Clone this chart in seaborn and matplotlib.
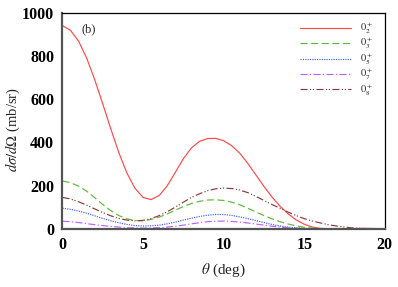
import numpy as np
import pandas as pd
import matplotlib
matplotlib.use('Agg')
import matplotlib.pyplot as plt
import seaborn as sns

# angles in degrees, 0.5 deg step
theta = np.arange(0, 20.01, 0.5)

# cross sections (mb/sr)
s02 = [940, 918, 868, 790, 690, 578, 462, 352, 258, 188, 146, 136, 155, 200, 262, 325,
       375, 405, 418, 419, 408, 385, 350, 303, 250, 197, 148, 105, 70, 42, 22, 9,
       3, 1, 0.5, 1, 2, 3, 3, 2, 1]
s03 = [222, 214, 198, 175, 145, 113, 85, 62, 47, 39, 38, 44, 55, 70, 87, 104,
       118, 128, 134, 135, 132, 124, 112, 96, 79, 62, 47, 34, 23, 15, 8, 4,
       2, 1, 0.5, 0.5, 0.5, 0.5, 0.5, 0.5, 0.5]
s05 = [96, 91, 83, 73, 61, 49, 38, 29, 21, 16, 14, 15, 18, 24, 32, 41,
       50, 58, 64, 67, 67, 63, 56, 48, 39, 30, 21, 14, 9, 5, 3, 1.5,
       0.5, 0.5, 0.5, 0.5, 0.5, 0.5, 0.5, 0.5, 0.5]
s07 = [36, 34, 30, 25, 20, 16, 12, 9, 6, 5, 4, 5, 6, 9, 13, 18,
       24, 29, 34, 36, 37, 35, 32, 28, 23, 18, 13, 9, 6, 4, 2, 1,
       0.5, 0.5, 0.5, 0.5, 0.5, 0.5, 0.5, 0.5, 0.5]
s08 = [146, 139, 126, 110, 93, 76, 61, 49, 41, 38, 40, 48, 62, 80, 101, 124,
       146, 163, 177, 186, 189, 187, 180, 168, 151, 132, 113, 96, 78, 62, 48, 37,
       28, 20, 14, 9, 5, 3, 1.5, 1, 0.5]

labels = [r'$0_2^+$', r'$0_3^+$', r'$0_5^+$', r'$0_7^+$', r'$0_8^+$']
series = [s02, s03, s05, s07, s08]
colors = ['#ff4848', '#5cb83a', '#3c5cff', '#c060ff', '#8b3a3a']
styles = ['-', (0, (6, 3)), (0, (1, 1)), (0, (6, 2, 1, 2)), (0, (6, 2, 1, 1.5, 1, 2))]

sns.set_style('white')
plt.rcParams['font.family'] = ['Liberation Serif', 'DejaVu Serif']
plt.rcParams['mathtext.fontset'] = 'stix'

fig = plt.figure(figsize=(3.98, 2.87), dpi=100)
ax = fig.add_axes([0.157, 0.202, 0.81, 0.754])

for vals, lab, c, ls in zip(series, labels, colors, styles):
    sns.lineplot(x=theta, y=vals, ax=ax, color=c, linestyle=ls, linewidth=0.85, label=lab)

ax.set_xlim(0, 20)
ax.set_ylim(0, 1000)
ax.set_xticks([0, 5, 10, 15, 20])
ax.set_xticks(np.arange(0, 21, 1), minor=True)
ax.set_yticks([0, 200, 400, 600, 800, 1000])
ax.set_yticks(np.arange(0, 1001, 50), minor=True)
ax.tick_params(which='both', direction='in', top=False, right=False, colors='#555555',
               labelcolor='black', labelsize=11.5, pad=6)
ax.tick_params(which='major', length=6, width=1.2)
ax.tick_params(which='minor', length=3.5, width=0.8)
for t in ax.get_xticklabels() + ax.get_yticklabels():
    t.set_fontweight('bold')

for side in ['left', 'bottom']:
    ax.spines[side].set_color('#555555')
    ax.spines[side].set_linewidth(1.6)
for side in ['top', 'right']:
    ax.spines[side].set_color('black')
    ax.spines[side].set_linewidth(0.9)

ax.set_xlabel(r'$\theta$ (deg)', fontsize=11, labelpad=6)
ax.set_ylabel(r'$d\sigma/d\mathit{\Omega}$ (mb/sr)', fontsize=10.5)
ax.yaxis.set_label_coords(-0.127, 0.46)
ax.text(0.08, 0.925, '(b)', transform=ax.transAxes, fontsize=9, ha='center', va='center')

ax.legend(loc='upper right', bbox_to_anchor=(0.985, 0.995), frameon=False, fontsize=7.5,
          handlelength=4.9, handletextpad=0.8, labelspacing=0.0, borderaxespad=0.3)

fig.savefig('out.png', dpi=100)
